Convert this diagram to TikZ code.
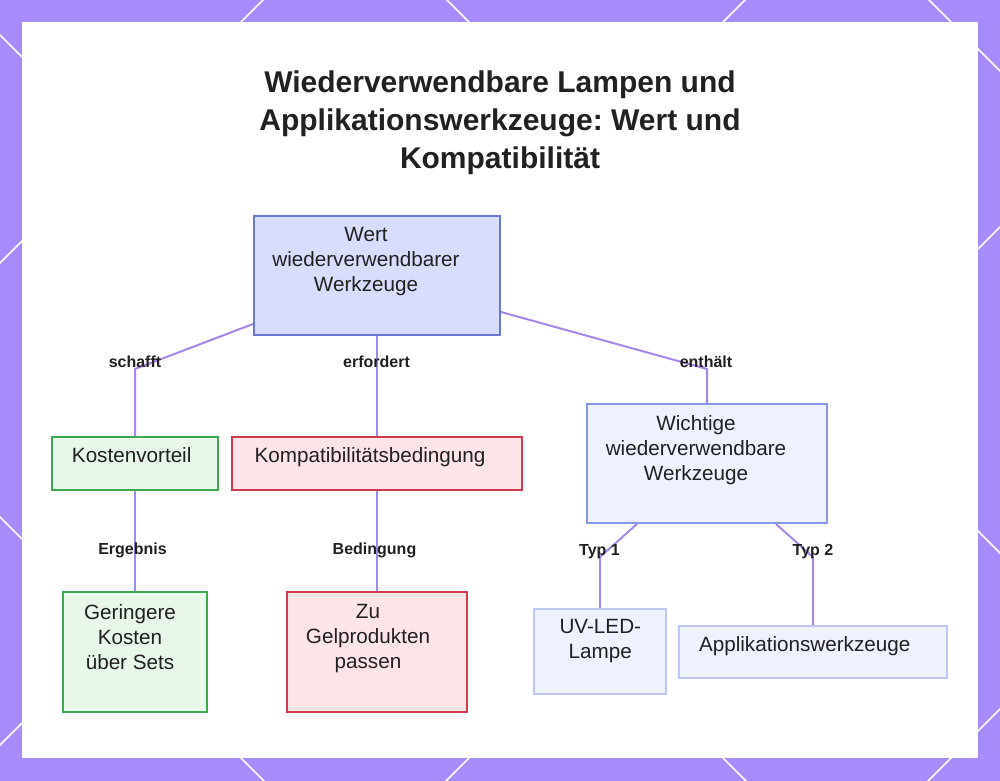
\documentclass[tikz,border=0pt]{standalone}
\usepackage{fontspec}
\setmainfont{Liberation Sans}
\frenchspacing

\definecolor{framecol}{RGB}{167,139,250}
\definecolor{ink}{RGB}{33,33,33}
\definecolor{linkcol}{RGB}{165,135,235}
\definecolor{rootfill}{RGB}{216,220,253}
\definecolor{rootdraw}{RGB}{105,120,210}
\definecolor{greenfill}{RGB}{233,246,234}
\definecolor{greendraw}{RGB}{60,168,80}
\definecolor{redfill}{RGB}{253,228,232}
\definecolor{reddraw}{RGB}{208,58,78}
\definecolor{bluefill}{RGB}{238,241,254}
\definecolor{bluedraw}{RGB}{135,150,232}
\definecolor{paledraw}{RGB}{190,198,245}

\tikzset{
  box/.style={rectangle, draw, line width=1.5pt, inner sep=0pt},
  txt/.style={text=ink, align=center, inner sep=0pt, font=\fontsize{15.5}{18.75}\selectfont},
  elabel/.style={text=ink, anchor=base, inner sep=0pt, font=\bfseries\fontsize{12}{14}\selectfont},
  heading/.style={text=ink, align=center, inner sep=0pt, font=\bfseries\fontsize{22.5}{28.5}\selectfont},
  link/.style={draw=linkcol, line width=1.5pt},
  lattice/.style={white, line width=1.1pt}
}

\begin{document}
\begin{tikzpicture}[x=0.75pt,y=0.75pt,yscale=-1,xscale=1]
\useasboundingbox (0,0) rectangle (1000,781);

%Frame
\fill[framecol] (0,0) rectangle (1000,781);
\begin{scope}
\clip (0,0) rectangle (1000,781);
\foreach \c in {263,745,1227,1709} \draw[lattice] (\c+200,-200) -- (\c-1000,1000);
\foreach \c in {-517,-35,447,929} \draw[lattice] (\c-200,-200) -- (\c+1000,1000);
\end{scope}
\fill[white] (22,22) rectangle (978,758);

% Text Node
\node[heading] (title) at (500,123) {Wiederverwendbare Lampen und\\Applikationswerkzeuge: Wert und\\Kompatibilität};

%Shape: Rectangle
\node[box, fill=rootfill, draw=rootdraw, minimum width=184.5pt, minimum height=89.25pt] (root) at (377,275.5) {};
%Shape: Rectangle
\node[box, fill=greenfill, draw=greendraw, minimum width=124.5pt, minimum height=39.75pt] (cost) at (135,463.5) {};
%Shape: Rectangle
\node[box, fill=redfill, draw=reddraw, minimum width=217.5pt, minimum height=39.75pt] (compat) at (377,463.5) {};
%Shape: Rectangle
\node[box, fill=bluefill, draw=bluedraw, minimum width=180pt, minimum height=89.25pt] (tools) at (707,463.5) {};
%Shape: Rectangle
\node[box, fill=greenfill, draw=greendraw, minimum width=108pt, minimum height=90pt] (lower) at (135,652) {};
%Shape: Rectangle
\node[box, fill=redfill, draw=reddraw, minimum width=135pt, minimum height=90pt] (fit) at (377,652) {};
%Shape: Rectangle
\node[box, fill=bluefill, draw=paledraw, minimum width=99pt, minimum height=63.75pt] (lamp) at (600,651.5) {};
%Shape: Rectangle
\node[box, fill=bluefill, draw=paledraw, minimum width=201pt, minimum height=39pt] (apptools) at (813,652) {};

%Straight Lines
\coordinate (bS) at (135,369);
\draw[link] ([yshift=-9pt]root.south west) -- (bS) -- (cost.north);
\draw[link] (root.south) -- (compat.north);
\coordinate (bE) at (707,369);
\draw[link] ([yshift=-18pt]root.south east) -- (bE) -- (tools.north);
\draw[link] (cost.south) -- (lower.north);
\draw[link] (compat.south) -- (fit.north);
\coordinate (bT1) at (600,557);
\draw[link] ([xshift=38.25pt]tools.south west) -- (bT1) -- (lamp.north);
\coordinate (bT2) at (813,557);
\draw[link] ([xshift=-39pt]tools.south east) -- (bT2) -- (apptools.north);

% Text Node
\node[txt] (rootT) at (366,262) {Wert\\wiederverwendbarer\\Werkzeuge};
% Text Node
\node[txt] (costT) at (131.7,455.5) {Kostenvorteil};
% Text Node
\node[txt] (compatT) at (370,457.6) {Kompatibilitätsbedingung};
% Text Node
\node[txt] (toolsT) at (696,450) {Wichtige\\wiederverwendbare\\Werkzeuge};
% Text Node
\node[txt] (lowerT) at (130,637.5) {Geringere\\Kosten\\über Sets};
% Text Node
\node[txt] (fitT) at (368,639) {Zu\\Gelprodukten\\passen};
% Text Node
\node[txt] (lampT) at (600.3,640.6) {UV-LED-\\Lampe};
% Text Node
\node[txt] (appT) at (804.7,646.6) {Applikationswerkzeuge};

% Text Node
\node[elabel] (lSchafft) at (135,367) {schafft};
\node[elabel] (lErfordert) at (376.5,367) {erfordert};
\node[elabel] (lEnthaelt) at (706,367) {enthält};
\node[elabel] (lErgebnis) at (132.5,554) {Ergebnis};
\node[elabel] (lBedingung) at (374.5,554) {Bedingung};
\node[elabel] (lTyp1) at (599.5,555) {Typ 1};
\node[elabel] (lTyp2) at (813,555) {Typ 2};

\end{tikzpicture}
\end{document}
